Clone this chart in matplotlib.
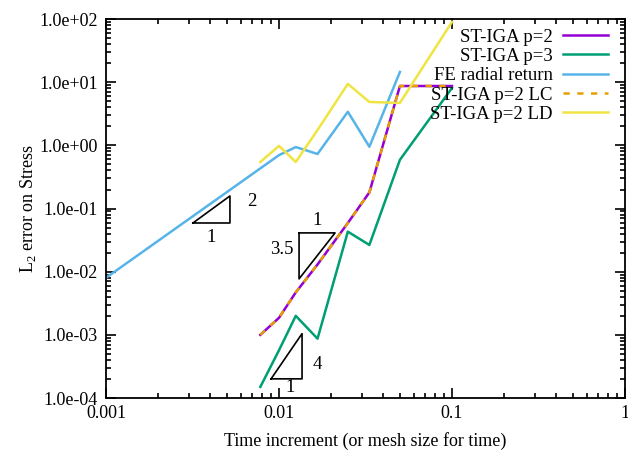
import numpy as np
import matplotlib
matplotlib.use("Agg")
import matplotlib.pyplot as plt

plt.rcParams["font.family"] = ["Liberation Serif", "DejaVu Serif"]
plt.rcParams["mathtext.fontset"] = "custom"
plt.rcParams["mathtext.rm"] = "Liberation Serif"

# time increments
dt = [0.0078, 0.01, 0.0125, 0.0167, 0.025, 0.0333, 0.05, 0.1]
dt_fe = [0.001, 0.01, 0.0125, 0.0167, 0.025, 0.0333, 0.05]

err_p2 = [0.001, 0.00186, 0.0047, 0.013, 0.059, 0.18, 8.7, 8.7]
err_p3 = [0.00015, 0.00057, 0.002, 0.00087, 0.043, 0.0265, 0.59, 8.1]
err_fe = [0.008, 0.70, 0.94, 0.73, 3.4, 0.95, 14.5]
err_lc = [0.001, 0.00186, 0.0047, 0.013, 0.059, 0.18, 8.7, 8.7]
err_ld = [0.546, 0.98, 0.546, 1.75, 9.4, 4.86, 4.7, 90.0]

labels = ["ST-IGA p=2", "ST-IGA p=3", "FE radial return", "ST-IGA p=2 LC", "ST-IGA p=2 LD"]
colors = ["#9400D3", "#009E73", "#56B4E9", "#E69F00", "#F0E442"]

# slope triangles: (x corner, y corner, width in decades, slope, label,
#  slope label offsets (x, y), "1" label offsets (x, y))
triangles = [
	(0.00318, 0.059, 0.214, 2, "2", (1.25, 1.35), (1.0, 0.6)),
	(0.0090, 0.000201, 0.179, 4, "4", (1.15, 0.75), (1.05, 0.72)),
]
tri35 = (0.01306, 0.0411, 0.208, 3.5, "3.5")

fig = plt.figure(figsize=(6.28, 4.53), dpi=100)
ax = fig.add_axes([0.1688, 0.1214, 0.8264, 0.8366])

lw = 1.8
ax.plot(dt, err_p2, color=colors[0], lw=lw, label=labels[0])
ax.plot(dt, err_p3, color=colors[1], lw=lw, label=labels[1])
ax.plot(dt_fe, err_fe, color=colors[2], lw=lw, label=labels[2])
ax.plot(dt, err_lc, color=colors[3], lw=lw, dashes=(2.5, 3), label=labels[3])
ax.plot(dt, err_ld, color=colors[4], lw=lw, label=labels[4])

# lower triangles (right angle at bottom right)
for x0, y0, w, s, lab, off_s, off_1 in triangles:
	x1 = x0 * 10 ** w
	y1 = y0 * 10 ** (w * s)
	ax.plot([x0, x1, x1, x0], [y0, y1, y0, y0], color="black", lw=1.2)
	ax.text(x1 * off_s[0], np.sqrt(y0 * y1) * off_s[1], lab, fontsize=13.5,
		ha="left", va="center")
	ax.text(np.sqrt(x0 * x1) * off_1[0], y0 * off_1[1], "1", fontsize=13.5,
		ha="center", va="center")

# upper triangle (right angle at top left)
x0, y0, w, s, lab = tri35
x1 = x0 * 10 ** w
y1 = y0 / 10 ** (w * s)
ax.plot([x0, x1, x0, x0], [y0, y0, y1, y0], color="black", lw=1.2)
ax.text(np.sqrt(x0 * x1), y0 * 1.55, "1", fontsize=13.5, ha="center", va="center")
ax.text(x0 * 0.93, np.sqrt(y0 * y1) * 1.25, lab, fontsize=13.5, ha="right", va="center")

ax.set_xscale("log")
ax.set_yscale("log")
ax.set_xlim(0.001, 1)
ax.set_ylim(1e-4, 1e2)
ax.set_xticks([0.001, 0.01, 0.1, 1])
ax.set_xticklabels(["0.001", "0.01", "0.1", "1"])
yt = [1e-4, 1e-3, 1e-2, 1e-1, 1e0, 1e1, 1e2]
ax.set_yticks(yt)
ax.set_yticklabels(["%.1e" % v for v in yt])

ax.tick_params(which="both", direction="in", top=True, right=True, labelsize=13, width=1.2)
ax.tick_params(which="major", length=7, pad=6)
ax.tick_params(which="minor", length=3.5)
ax.tick_params(axis="x", which="major", pad=5)
for sp in ax.spines.values():
	sp.set_linewidth(1.3)

ax.set_xlabel("Time increment (or mesh size for time)", fontsize=13, labelpad=7)
ax.set_ylabel("L$_2$ error on Stress", fontsize=13, labelpad=1)

leg = ax.legend(loc="upper right", frameon=False, markerfirst=False, fontsize=13.5,
	handlelength=2.4, labelspacing=0.12, handletextpad=0.55, borderaxespad=0.3,
	borderpad=0.2, bbox_to_anchor=(0.985, 1.0))
for t in leg.get_texts():
	t.set_ha("right")

fig.savefig("out.png", dpi=100)
